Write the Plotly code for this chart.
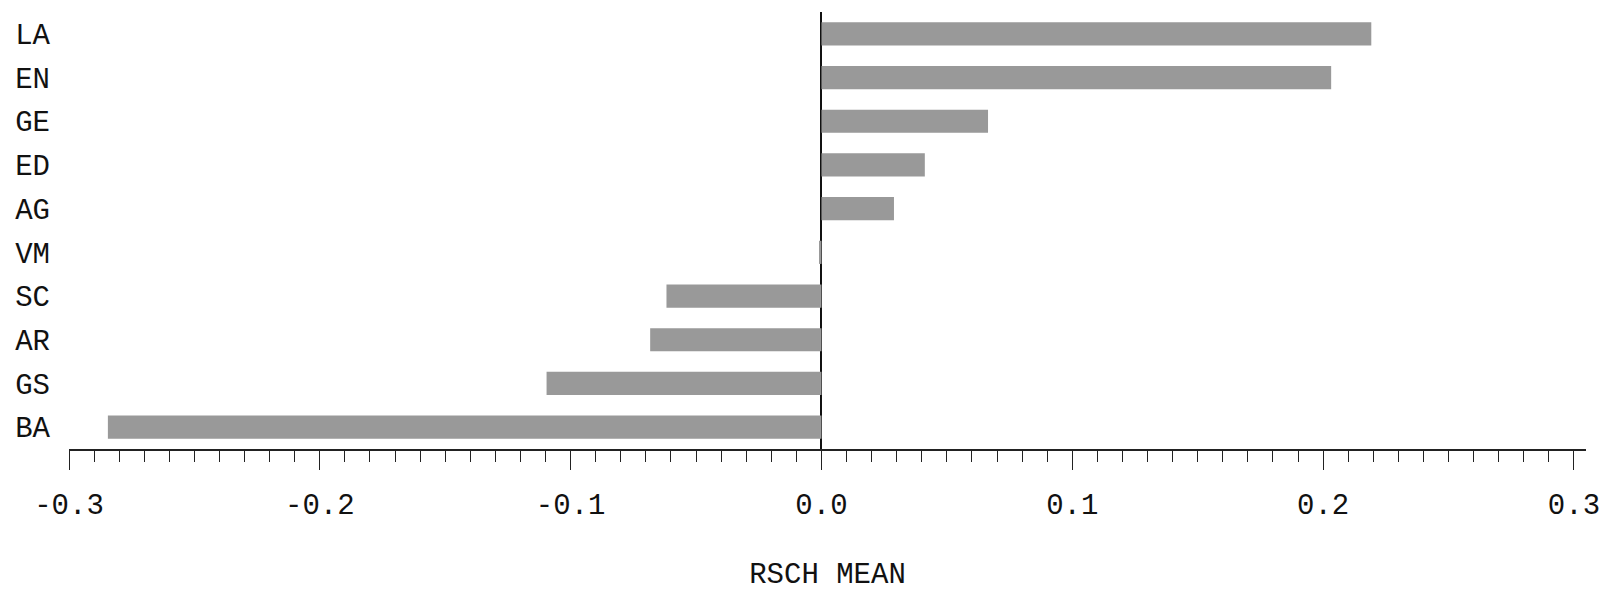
import plotly.graph_objects as go

categories = ["LA", "EN", "GE", "ED", "AG", "VM", "SC", "AR", "GS", "BA"]
rsch_mean = [0.2192, 0.2032, 0.0664, 0.0412, 0.0289, -0.0010, -0.0618, -0.0683, -0.1096, -0.2845]
x_tick_vals = [-0.3, -0.2, -0.1, 0.0, 0.1, 0.2, 0.3]
x_tick_text = ["-0.3", "-0.2", "-0.1", "0.0", "0.1", "0.2", "0.3"]

FONT = "Courier New, Liberation Mono, monospace"

fig = go.Figure(go.Bar(
    x=rsch_mean, y=categories, orientation="h",
    marker=dict(color="#999999", line=dict(width=0)),
    width=0.53,
))

fig.update_layout(
    width=1618, height=591,
    margin=dict(l=61, r=40, t=4, b=150),
    plot_bgcolor="white", paper_bgcolor="white",
    font=dict(family=FONT, size=29, color="#111111"),
    showlegend=False,
    xaxis=dict(
        automargin=False,
        range=[-0.3, 0.3048],
        tickvals=x_tick_vals, ticktext=x_tick_text,
        ticks="outside", ticklen=19, tickwidth=1.2, tickcolor="#222222",
        minor=dict(dtick=0.01, tick0=0, ticks="outside", ticklen=11, tickwidth=1.2, tickcolor="#222222", showgrid=False),
        showline=True, linecolor="#222222", linewidth=1.5,
        showgrid=False,
        zeroline=True, zerolinecolor="#111111", zerolinewidth=1.5,
        ticklabelstandoff=9,
        title=dict(text="RSCH MEAN", standoff=41, font=dict(family=FONT, size=29)),
    ),
    yaxis=dict(
        automargin=False,
        autorange="reversed",
        showline=False, showgrid=False, zeroline=False,
        ticks="", ticklabelstandoff=18,
    ),
)

fig.write_html("out.html")
